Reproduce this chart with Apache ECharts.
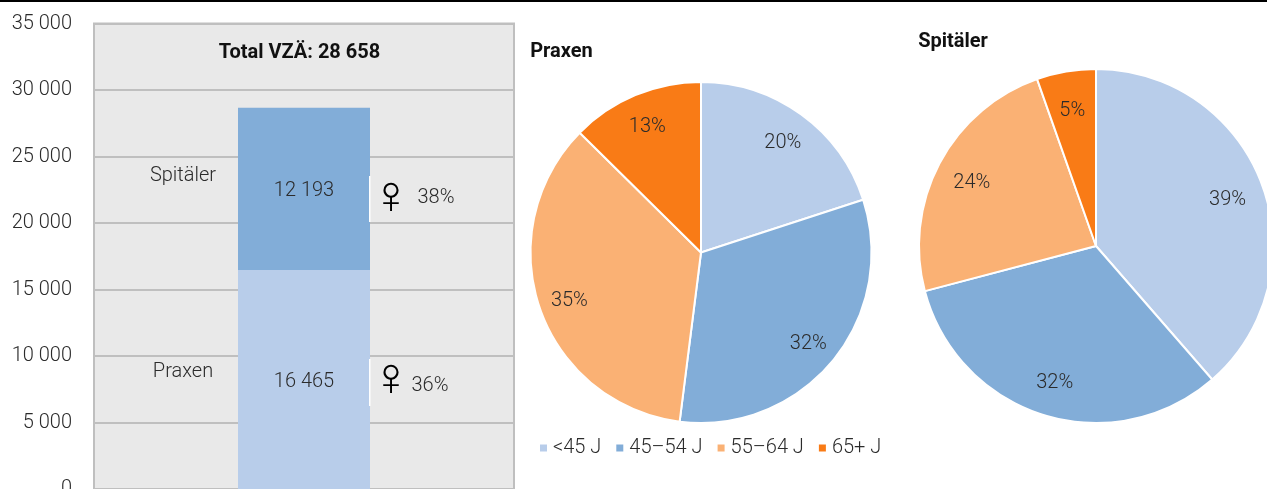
<!DOCTYPE html>
<html>
<head>
<meta charset="utf-8">
<style>
  html, body { margin: 0; padding: 0; background: #fff; overflow: hidden; }
  #chart { width: 1267px; height: 489px; }
</style>
<script src="https://cdn.jsdelivr.net/npm/echarts@6/dist/echarts.min.js"></script>
</head>
<body>
<div id="chart"></div>
<script>
const categories = ['VZÄ']
const praxenValues = [16465]
const spitaelerValues = [12193]
const ageGroups = ['<45 J', '45–54 J', '55–64 J', '65+ J']
const praxenShares = [20, 32, 35.4, 12.6]
const spitaelerShares = [38.6, 32.3, 23.7, 5.4]
const ageColors = ['#b8cdea', '#82add8', '#fab174', '#f97b16']

const fontFamily = 'Roboto'
const textColor = '#2b2b2b'
const lightText = { fontFamily, fontWeight: 300, color: textColor }

const thousands = (v) => String(v).replace(/\B(?=(\d{3})+$)/g, ' ')

function pieData(shares) {
  return ageGroups.map((name, i) => ({
    name,
    value: shares[i],
    itemStyle: { color: ageColors[i] }
  }))
}

// full pie, no labels
function pieSlices(shares, center, r) {
  return {
    type: 'pie',
    center,
    radius: [0, r],
    startAngle: 90,
    clockwise: true,
    silent: true,
    label: { show: false },
    labelLine: { show: false },
    itemStyle: { borderColor: '#fff', borderWidth: 2 },
    data: pieData(shares)
  }
}

// transparent ring on top, pushes the inside labels out towards the rim
function pieLabels(shares, center, r, r0) {
  return {
    type: 'pie',
    center,
    radius: [r0, r],
    startAngle: 90,
    silent: true,
    legendHoverLink: false,
    label: {
      position: 'inside',
      ...lightText,
      fontSize: 20,
      offset: [0, 3],
      formatter: (p) => Math.round(p.value) + '%'
    },
    labelLine: { show: false },
    itemStyle: { color: 'transparent' },
    data: shares.map((value, i) => ({
      name: ageGroups[i],
      value,
      itemStyle: { color: 'transparent' }
    }))
  }
}

function note(text, x, y, style) {
  return {
    type: 'text',
    x,
    y,
    silent: true,
    style: { text, align: 'center', verticalAlign: 'middle', fill: textColor, fontFamily, fontWeight: 300, fontSize: 20, ...style }
  }
}

const symbolStyle = { fontFamily: 'Liberation Sans', fontWeight: 400, fontSize: 54, fill: '#000' }

const barLabel = {
  show: true,
  position: 'inside',
  offset: [0, 2],
  ...lightText,
  fontSize: 20,
  formatter: (p) => thousands(p.value)
}

const chart = echarts.init(document.getElementById('chart'))
chart.setOption({
  animation: false,
  backgroundColor: '#fff',
  grid: {
    left: 94,
    top: 23.5,
    width: 420,
    height: 465.5,
    outerBoundsMode: 'none',
    show: true,
    backgroundColor: '#e9e9e9',
    borderColor: '#bfbfbf',
    borderWidth: 2
  },
  xAxis: {
    type: 'category',
    data: categories,
    axisLine: { show: false },
    axisTick: { show: false },
    axisLabel: { show: false }
  },
  yAxis: {
    type: 'value',
    min: 0,
    max: 35000,
    interval: 5000,
    axisLine: { show: false },
    axisTick: { show: false },
    splitLine: { lineStyle: { color: '#bfbfbf', width: 2 } },
    axisLabel: {
      ...lightText,
      fontSize: 20,
      margin: 22,
      padding: [2, 0, 0, 0],
      formatter: thousands
    }
  },
  legend: {
    data: ageGroups,
    left: 538,
    top: 438,
    padding: 0,
    icon: 'rect',
    itemWidth: 9,
    itemHeight: 9,
    itemGap: 13,
    selectedMode: false,
    textStyle: { ...lightText, fontSize: 20 }
  },
  graphic: [
    { type: 'rect', shape: { x: 0, y: 0, width: 1267, height: 2 }, style: { fill: '#000' }, silent: true },
    note('Total VZÄ: 28 658', 299.5, 53, { fontWeight: 700, fill: '#111' }),
    note('Spitäler', 183, 176),
    note('Praxen', 183, 372),
    { type: 'rect', z: 5, shape: { x: 369, y: 176, width: 1.5, height: 46 }, style: { fill: '#fff' }, silent: true },
    { type: 'rect', z: 5, shape: { x: 369, y: 359, width: 1.5, height: 47 }, style: { fill: '#fff' }, silent: true },
    note('♀', 391, 198, symbolStyle),
    note('♀', 391, 380, symbolStyle),
    note('38%', 436, 198),
    note('36%', 430, 386),
    note('Praxen', 561.5, 52, { fontWeight: 700, fill: '#111' }),
    note('Spitäler', 953, 42, { fontWeight: 700, fill: '#111' })
  ],
  series: [
    {
      name: 'Praxen',
      type: 'bar',
      stack: 'total',
      barWidth: 132,
      data: praxenValues,
      itemStyle: { color: ageColors[0] },
      label: barLabel
    },
    {
      name: 'Spitäler',
      type: 'bar',
      stack: 'total',
      barWidth: 132,
      data: spitaelerValues,
      itemStyle: { color: ageColors[1] },
      label: barLabel
    },
    pieSlices(praxenShares, [701, 252.5], 170.5),
    pieLabels(praxenShares, [701, 252.5], 170.5, 102),
    pieSlices(spitaelerShares, [1096, 246], 177),
    pieLabels(spitaelerShares, [1096, 246], 177, 98)
  ]
})
</script>
</body>
</html>
